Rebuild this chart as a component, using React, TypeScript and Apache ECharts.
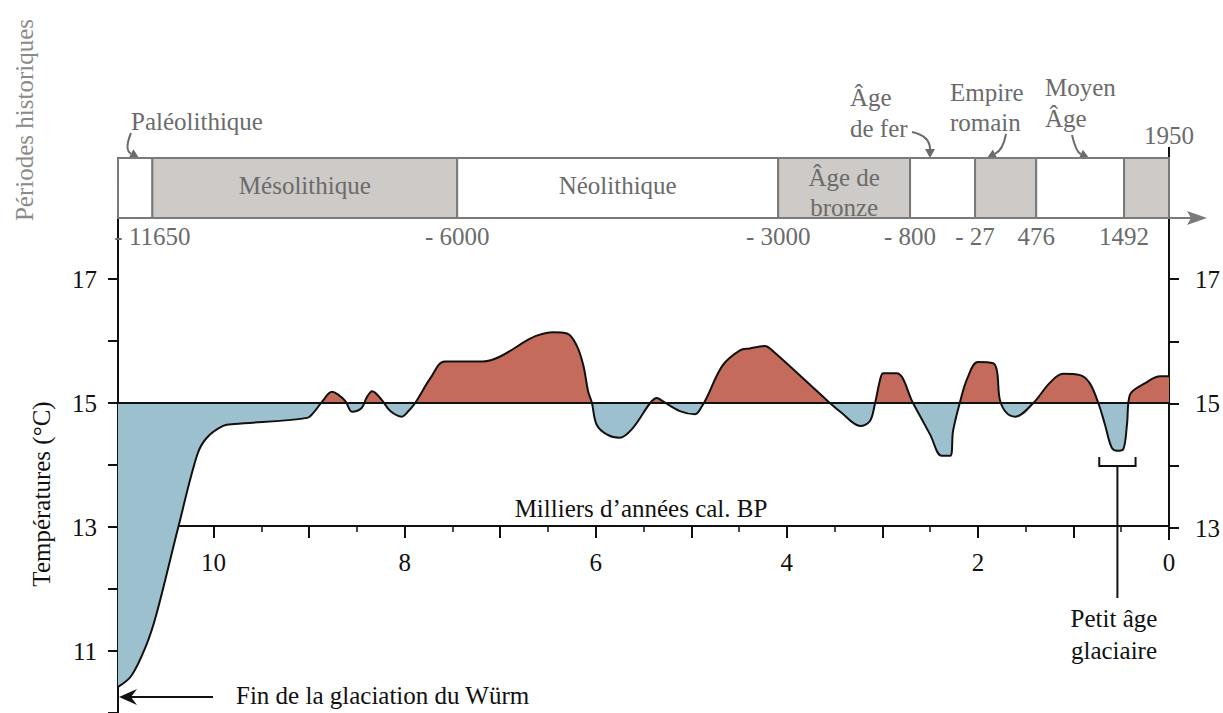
import React, { useEffect, useRef } from 'react';
import * as echarts from 'echarts';

// Temperature curve (thousands of years cal. BP, °C)
const ageKaBP = [11.0, 10.86, 10.71, 10.6, 10.37, 10.17, 10.07, 9.9, 9.78, 9.02, 8.94, 8.86, 8.76, 8.7, 8.62, 8.55, 8.45, 8.4, 8.34, 8.24, 8.15, 8.03, 7.96, 7.89, 7.73, 7.58, 7.18, 7.0, 6.72, 6.61, 6.45, 6.3, 6.2, 6.13, 6.08, 6.04, 5.99, 5.88, 5.75, 5.61, 5.43, 5.36, 5.3, 5.12, 4.96, 4.88, 4.84, 4.67, 4.49, 4.39, 4.23, 4.14, 3.57, 3.44, 3.23, 3.13, 3.08, 3.02, 2.99, 2.85, 2.68, 2.5, 2.38, 2.29, 2.26, 2.19, 2.11, 2.0, 1.84, 1.8, 1.77, 1.7, 1.61, 1.42, 1.25, 1.11, 0.93, 0.83, 0.74, 0.67, 0.6, 0.54, 0.48, 0.44, 0.41, 0.25, 0.09, 0.0];
const temperature = [10.42, 10.6, 11.07, 11.58, 12.99, 14.17, 14.44, 14.63, 14.66, 14.76, 14.87, 15.03, 15.18, 15.14, 15.03, 14.86, 14.92, 15.08, 15.19, 15.05, 14.87, 14.78, 14.87, 15.0, 15.4, 15.67, 15.67, 15.75, 16.01, 16.09, 16.14, 16.12, 15.93, 15.61, 15.19, 15.0, 14.65, 14.49, 14.44, 14.6, 15.0, 15.08, 15.03, 14.87, 14.82, 14.97, 15.08, 15.61, 15.85, 15.88, 15.92, 15.83, 15.03, 14.86, 14.63, 14.71, 14.97, 15.4, 15.48, 15.48, 15.0, 14.49, 14.15, 14.15, 14.55, 15.0, 15.4, 15.66, 15.64, 15.51, 15.05, 14.84, 14.78, 15.0, 15.32, 15.47, 15.45, 15.32, 15.0, 14.65, 14.28, 14.23, 14.25, 14.65, 15.13, 15.32, 15.43, 15.43];
const referenceTemp = 15;

// Axis ticks / labels
const xLabelValues = [0, 2, 4, 6, 8, 10];
const yLeftLabels = [11, 13, 15, 17];
const yRightLabels = [13, 15, 17];

// Historical periods (boundaries placed on the ka BP axis, schematic)
const periodBoundaries = [11, 10.64, 7.45, 4.09, 2.71, 2.03, 1.39, 0.47, 0];
const periodBoxLabels = ['', 'Mésolithique', 'Néolithique', 'Âge de\nbronze', '', '', '', ''];
const boundaryYears = ['- 11650', '- 6000', '- 3000', '- 800', '- 27', '476', '1492', '1950'];
const periodShaded = [false, true, false, true, false, true, false, true];

// Little ice age bracket (ka BP)
const littleIceAge = [0.73, 0.35];

const SERIF = 'Liberation Serif, serif';
const FS = 25;
const FONT = FS + 'px Liberation Serif, serif';
const GREY_TXT = '#6b6b6b';
const RED = '#c46b5c';
const BLUE = '#9dc0cf';

function txt(x: number, y: number, text: string, fill: string, align = 'left', rotation = 0) {
  return {
    type: 'text', x, y, rotation, silent: true,
    style: { text, fill, font: FONT, align, verticalAlign: 'middle' },
  };
}

function curvedArrow(x1: number, y1: number, cx: number, cy: number, x2: number, y2: number, color: string) {
  const ang = Math.atan2(y2 - cy, x2 - cx);
  const L = 9, W = 5;
  const bx = x2 - L * Math.cos(ang), by = y2 - L * Math.sin(ang);
  const px = -Math.sin(ang) * W, py = Math.cos(ang) * W;
  return [
    { type: 'bezierCurve', silent: true, shape: { x1, y1, x2: bx, y2: by, cpx1: cx, cpy1: cy }, style: { stroke: color, lineWidth: 2, fill: 'none' } },
    { type: 'polygon', silent: true, shape: { points: [[x2, y2], [bx + px, by + py], [bx - px, by - py]] }, style: { fill: color } },
  ];
}

export default function App() {
  const ref = useRef<HTMLDivElement>(null);

  useEffect(() => {
    if (!ref.current) return;
    const chart = echarts.init(ref.current, null, { renderer: 'svg' });

    const lineData = ageKaBP.map((a, i) => [a, temperature[i]]);
    const periodData = periodBoxLabels.map((_, i) => [periodBoundaries[i], periodBoundaries[i + 1], i]);

    const axisText = { fontFamily: SERIF, fontSize: FS, color: '#111' };
    const tickStyle = { color: '#111', width: 2 };

    const option: any = {
      animation: false,
      backgroundColor: '#fff',
      grid: [
        { left: 118, right: 54, top: 279, height: 436 },
        { left: 118, right: 54, top: 158, height: 60 },
        { left: 118, right: 54, top: 279, height: 249 },
      ],
      xAxis: [
        {
          type: 'value', gridIndex: 0, inverse: true, min: 0, max: 11, interval: 1,
          position: 'bottom', offset: -187,
          axisLine: { show: true, onZero: false, lineStyle: { color: '#111', width: 2 } },
          axisTick: { show: true, length: 12, inside: false, lineStyle: tickStyle },
          minorTick: { show: true, splitNumber: 2, length: 6, lineStyle: { color: '#111', width: 1.5 } },
          axisLabel: {
            ...axisText, margin: 24,
            formatter: (v: number) => (xLabelValues.indexOf(v) >= 0 ? String(v) : ''),
          },
          splitLine: { show: false },
        },
        { type: 'value', gridIndex: 1, inverse: true, min: 0, max: 11, show: false },
        { type: 'value', gridIndex: 2, inverse: true, min: 0, max: 11, show: false },
      ],
      yAxis: [
        {
          type: 'value', gridIndex: 0, position: 'left', min: 10, max: 17, interval: 1,
          axisLine: { show: false, onZero: false },
          axisTick: { show: true, length: 10, lineStyle: tickStyle },
          axisLabel: {
            ...axisText, margin: 21,
            formatter: (v: number) => (yLeftLabels.indexOf(v) >= 0 ? String(v) : ''),
          },
          splitLine: { show: false },
        },
        { type: 'value', gridIndex: 1, min: 0, max: 1, show: false, axisLine: { onZero: false } },
        {
          type: 'value', gridIndex: 2, position: 'right', min: 13, max: 17, interval: 1,
          axisLine: { show: false, onZero: false },
          axisTick: { show: true, length: 10, lineStyle: tickStyle },
          axisLabel: {
            ...axisText, margin: 26,
            formatter: (v: number) => (yRightLabels.indexOf(v) >= 0 ? String(v) : ''),
          },
          splitLine: { show: false },
        },
      ],
      visualMap: {
        show: false, type: 'piecewise', seriesIndex: 0, dimension: 1,
        pieces: [
          { gte: 0, lt: referenceTemp, color: BLUE },
          { gte: referenceTemp, lte: 40, color: RED },
        ],
      },
      series: [
        {
          type: 'line', xAxisIndex: 0, yAxisIndex: 0, data: lineData,
          smooth: 0.35, showSymbol: false, symbol: 'none',
          lineStyle: { color: '#111', width: 2 },
          areaStyle: { origin: referenceTemp, opacity: 1 },
          markLine: {
            silent: true, symbol: ['none', 'none'], label: { show: false },
            lineStyle: { color: '#111', width: 2, type: 'solid' },
            data: [{ yAxis: referenceTemp }],
          },
          z: 2,
        },
        {
          type: 'custom', xAxisIndex: 1, yAxisIndex: 1, data: periodData,
          encode: { x: [0, 1], y: 2 },
          silent: true,
          renderItem: (params: any, api: any) => {
            const i = api.value(2);
            const a = api.coord([api.value(0), 1]);
            const b = api.coord([api.value(1), 0]);
            const children: any[] = [
              {
                type: 'rect',
                shape: { x: a[0], y: a[1], width: b[0] - a[0], height: b[1] - a[1] },
                style: { fill: periodShaded[i] ? '#cdcac7' : '#ffffff', stroke: '#7a7a7a', lineWidth: 2 },
              },
            ];
            const lbl = periodBoxLabels[i];
            if (lbl) {
              const multi = lbl.indexOf('\n') >= 0;
              children.push({
                type: 'text', x: (a[0] + b[0]) / 2, y: (a[1] + b[1]) / 2 + (multi ? 4 : -3),
                style: { text: lbl, fill: GREY_TXT, font: FONT, lineHeight: 30, align: 'center', verticalAlign: 'middle' },
              });
            }
            const last = i === periodBoxLabels.length - 1;
            children.push({
              type: 'text', x: b[0], y: last ? a[1] - 23 : b[1] + 18,
              style: { text: boundaryYears[i], fill: GREY_TXT, font: FONT, align: 'center', verticalAlign: 'middle' },
            });
            return { type: 'group', children };
          },
          z: 3,
        },
      ],
    };

    chart.setOption(option);

    let lia0 = 1099, lia1 = 1135;
    try {
      const p0 = chart.convertToPixel({ gridIndex: 0 } as any, [littleIceAge[0], 15]) as any;
      const p1 = chart.convertToPixel({ gridIndex: 0 } as any, [littleIceAge[1], 15]) as any;
      if (p0 && p1) { lia0 = p0[0]; lia1 = p1[0]; }
    } catch (e) { /* keep defaults */ }
    const liaMid = (lia0 + lia1) / 2;

    const elements: any[] = [
      { type: 'line', silent: true, shape: { x1: 118, y1: 218, x2: 118, y2: 713 }, style: { stroke: '#111', lineWidth: 2 } },
      { type: 'line', silent: true, shape: { x1: 1169, y1: 147, x2: 1169, y2: 540 }, style: { stroke: '#111', lineWidth: 2 } },
      { type: 'line', silent: true, shape: { x1: 1169, y1: 528, x2: 1178, y2: 528 }, style: { stroke: '#111', lineWidth: 2 } },
      { type: 'line', silent: true, shape: { x1: 118, y1: 218, x2: 1192, y2: 218 }, style: { stroke: '#7a7a7a', lineWidth: 2 } },
      { type: 'polygon', silent: true, shape: { points: [[1207, 218], [1187, 211], [1191, 218], [1187, 225]] }, style: { fill: '#7a7a7a' } },
      txt(24, 120, 'Périodes historiques', '#8a8a8a', 'center', Math.PI / 2),
      txt(41, 494, 'Températures (°C)', '#111', 'center', Math.PI / 2),
      txt(641, 508, 'Milliers d’années cal. BP', '#111', 'center'),
      txt(131, 121, 'Paléolithique', GREY_TXT),
      txt(850, 97, 'Âge', GREY_TXT),
      txt(850, 128, 'de fer', GREY_TXT),
      txt(950, 92, 'Empire', GREY_TXT),
      txt(950, 122, 'romain', GREY_TXT),
      txt(1045, 87, 'Moyen', GREY_TXT),
      txt(1045, 118, 'Âge', GREY_TXT),
      ...curvedArrow(131, 133, 124, 150, 139, 158, '#6b6b6b'),
      ...curvedArrow(912, 132, 930, 136, 930, 158, '#6b6b6b'),
      ...curvedArrow(1006, 134, 1003, 150, 987, 158, '#6b6b6b'),
      ...curvedArrow(1072, 135, 1076, 152, 1089, 158, '#6b6b6b'),
      { type: 'line', silent: true, shape: { x1: 213, y1: 697, x2: 128, y2: 697 }, style: { stroke: '#111', lineWidth: 2 } },
      { type: 'polygon', silent: true, shape: { points: [[119, 697], [137, 689], [131, 697], [137, 705]] }, style: { fill: '#111' } },
      txt(236, 695, 'Fin de la glaciation du Würm', '#111'),
      { type: 'polyline', silent: true, shape: { points: [[lia0, 457], [lia0, 466], [lia1, 466], [lia1, 457]] }, style: { stroke: '#111', lineWidth: 2, fill: 'none' } },
      { type: 'line', silent: true, shape: { x1: liaMid, y1: 466, x2: liaMid, y2: 598 }, style: { stroke: '#111', lineWidth: 2 } },
      txt(1114, 618, 'Petit âge', '#111', 'center'),
      txt(1114, 650, 'glaciaire', '#111', 'center'),
    ];

    chart.setOption({ graphic: { elements } });

    return () => chart.dispose();
  }, []);

  return (
    <div
      ref={ref}
      style={{ position: 'absolute', left: 0, top: 0, width: 1223, height: 713, background: '#fff' }}
    />
  );
}
